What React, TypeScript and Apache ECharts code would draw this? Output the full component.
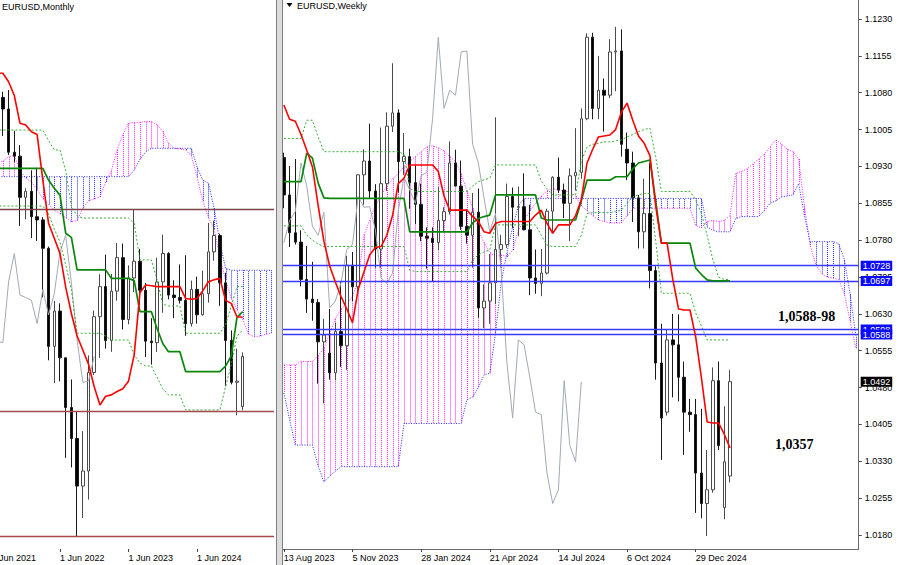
import React, { useEffect, useRef } from 'react';
import * as echarts from 'echarts';

// ================= MONTHLY (left panel) =================
const M_FIRST_YEAR = 2021; // categories start Jun 2021
const M_TICK_LABELS = ['1 Jun 2021', '1 Jun 2022', '1 Jun 2023', '1 Jun 2024'];
const M_OPEN = [null, null, 1.1870, 1.1808, 1.1578, 1.1557, 1.1338, 1.1370, 1.1235, 1.1218, 1.1067, 1.0545, 1.0733, 1.0484, 1.0220, 1.0055, 0.9802, 0.9882, 1.0406, 1.0703, 1.0863, 1.0576, 1.0839, 1.1017, 1.0688, 1.0909, 1.0998, 1.0844, 1.0573, 1.0565, 1.0888, 1.1039, 1.0818, 1.0805, 1.0790, 1.0666, 1.0848, 1.0713, 1.0825, 1.1048, 1.1135, 1.0883, 1.0577, 1.0354, 1.0225];
const M_HIGH = [null, null, 1.1900, 1.1909, 1.1692, 1.1616, 1.1386, 1.1482, 1.1495, 1.1233, 1.1076, 1.0787, 1.0774, 1.0486, 1.0369, 1.0198, 1.0094, 1.0497, 1.0736, 1.0929, 1.1033, 1.0930, 1.1095, 1.1092, 1.0976, 1.1276, 1.1064, 1.0882, 1.0695, 1.1017, 1.1140, 1.1046, 1.0897, 1.0981, 1.1030, 1.0895, 1.0916, 1.0948, 1.1202, 1.1214, 1.1145, 1.0937, 1.0630, 1.0533, 1.0513];
const M_LOW = [null, null, 1.1664, 1.1563, 1.1524, 1.1186, 1.1221, 1.1121, 1.1106, 1.0806, 1.0471, 1.0349, 1.0359, 0.9952, 0.9901, 0.9536, 0.9632, 0.9730, 1.0393, 1.0483, 1.0533, 1.0516, 1.0788, 1.0635, 1.0662, 1.0834, 1.0766, 1.0488, 1.0448, 1.0516, 1.0724, 1.0795, 1.0695, 1.0773, 1.0601, 1.0650, 1.0666, 1.0709, 1.0778, 1.1001, 1.0761, 1.0333, 1.0343, 1.0178, 1.0205];
const M_CLOSE = [null, null, 1.1808, 1.1578, 1.1557, 1.1338, 1.1370, 1.1235, 1.1218, 1.1067, 1.0545, 1.0733, 1.0484, 1.0220, 1.0055, 0.9802, 0.9882, 1.0406, 1.0703, 1.0863, 1.0576, 1.0839, 1.1017, 1.0688, 1.0909, 1.0998, 1.0844, 1.0573, 1.0565, 1.0888, 1.1039, 1.0818, 1.0805, 1.0790, 1.0666, 1.0848, 1.0713, 1.0825, 1.1048, 1.1135, 1.0883, 1.0577, 1.0354, 1.0360, 1.0492];
const M_TENKAN = [1.2010, 1.2000, 1.1998, 1.1953, 1.1880, 1.1732, 1.1723, 1.1687, 1.1672, 1.1430, 1.1200, 1.1120, 1.1040, 1.0860, 1.0720, 1.0600, 1.0526, 1.0450, 1.0330, 1.0233, 1.0280, 1.0287, 1.0305, 1.0320, 1.0360, 1.0500, 1.0830, 1.0872, 1.0868, 1.0863, 1.0863, 1.0863, 1.0863, 1.0863, 1.0800, 1.0796, 1.0800, 1.0840, 1.0889, 1.0900, 1.0907, 1.0790, 1.0774, 1.0703, 1.0700];
const M_KIJUN = [1.1492, 1.1492, 1.1492, 1.1492, 1.1492, 1.1492, 1.1492, 1.1492, 1.1492, 1.1492, 1.1430, 1.1386, 1.1350, 1.1147, 1.1125, 1.0952, 1.0952, 1.0952, 1.0952, 1.0952, 1.0952, 1.0907, 1.0907, 1.0907, 1.0907, 1.0895, 1.0730, 1.0730, 1.0730, 1.0640, 1.0560, 1.0517, 1.0517, 1.0517, 1.0411, 1.0411, 1.0411, 1.0411, 1.0411, 1.0411, 1.0411, 1.0440, 1.0495, 1.0700, 1.0730];
const M_UPPER_DOT = [1.1696, 1.1696, 1.1696, 1.1696, 1.1696, 1.1696, 1.1696, 1.1696, 1.1696, 1.1696, 1.1640, 1.1590, 1.1590, 1.1480, 1.1290, 1.1240, 1.1228, 1.1228, 1.1228, 1.1228, 1.1228, 1.1228, 1.1228, 1.1228, 1.1228, 1.1200, 1.1005, 1.1005, 1.1005, 1.0900, 1.0770, 1.0760, 1.0760, 1.0760, 1.0615, 1.0615, 1.0615, 1.0615, 1.0615, 1.0615, 1.0615, 1.0660, 1.0760, 1.0863, 1.0863];
const M_LOWER_DOT = [1.1292, 1.1292, 1.1292, 1.1292, 1.1292, 1.1292, 1.1292, 1.1292, 1.1292, 1.1292, 1.1250, 1.1170, 1.1100, 1.0980, 1.0845, 1.0615, 1.0615, 1.0615, 1.0615, 1.0615, 1.0600, 1.0579, 1.0579, 1.0579, 1.0579, 1.0500, 1.0457, 1.0441, 1.0441, 1.0380, 1.0320, 1.0287, 1.0287, 1.0287, 1.0207, 1.0207, 1.0207, 1.0207, 1.0207, 1.0207, 1.0207, 1.0330, 1.0450, 1.0600, 1.0632];
const M_SPAN_A = [1.1520, 1.1525, 1.1530, 1.1554, 1.1560, 1.1480, 1.1440, 1.1420, 1.1380, 1.1330, 1.1300, 1.1270, 1.1250, 1.1230, 1.1208, 1.1215, 1.1280, 1.1320, 1.1330, 1.1340, 1.1420, 1.1480, 1.1590, 1.1670, 1.1732, 1.1735, 1.1738, 1.1741, 1.1741, 1.1725, 1.1690, 1.1625, 1.1600, 1.1595, 1.1590, 1.1560, 1.1448, 1.1320, 1.1230, 1.1170, 1.1020, 1.0900, 1.0800, 1.0740, 1.0690, 1.0610, 1.0597, 1.0600, 1.0610, 1.0615];
const M_SPAN_B = [1.1448, 1.1448, 1.1448, 1.1448, 1.1448, 1.1448, 1.1448, 1.1448, 1.1448, 1.1448, 1.1448, 1.1448, 1.1448, 1.1448, 1.1448, 1.1448, 1.1448, 1.1448, 1.1448, 1.1448, 1.1448, 1.1448, 1.1448, 1.1448, 1.1448, 1.1483, 1.1540, 1.1580, 1.1599, 1.1599, 1.1599, 1.1599, 1.1599, 1.1599, 1.1599, 1.1599, 1.1501, 1.1430, 1.1413, 1.1280, 1.1100, 1.0960, 1.0950, 1.0950, 1.0950, 1.0950, 1.0950, 1.0950, 1.0950, 1.0950];
const M_LEVELS = [1.1276, 1.0202, 0.9537];

// ================= WEEKLY (right panel) =================
const W_TICK_LABELS = ['13 Aug 2023', '5 Nov 2023', '28 Jan 2024', '21 Apr 2024', '14 Jul 2024', '6 Oct 2024', '29 Dec 2024'];
const W_PRICE_TICKS = [1.0180, 1.0255, 1.0330, 1.0405, 1.0480, 1.0555, 1.0630, 1.0705, 1.0780, 1.0855, 1.0930, 1.1005, 1.1080, 1.1155, 1.1230];
const W_OPEN = [1.0948, 1.0872, 1.0795, 1.0776, 1.0700, 1.0660, 1.0653, 1.0573, 1.0550, 1.0510, 1.0594, 1.0565, 1.0729, 1.0685, 1.0913, 1.0941, 1.0880, 1.0762, 1.0895, 1.1012, 1.1039, 1.0940, 1.0950, 1.0897, 1.0853, 1.0788, 1.0784, 1.0775, 1.0820, 1.0838, 1.0937, 1.0890, 1.0808, 1.0790, 1.0837, 1.0642, 1.0656, 1.0693, 1.0761, 1.0771, 1.0869, 1.0847, 1.0848, 1.0801, 1.0703, 1.0692, 1.0713, 1.0839, 1.0908, 1.0882, 1.0855, 1.0911, 1.0918, 1.1027, 1.1193, 1.1048, 1.1085, 1.1075, 1.1163, 1.1165, 1.0965, 1.0937, 1.0866, 1.0797, 1.0834, 1.0718, 1.0530, 1.0430, 1.0577, 1.0567, 1.0501, 1.0430, 1.0425, 1.0306, 1.0244, 1.0272, 1.0494, 1.0236, 1.0300];
const W_HIGH = [1.0958, 1.0931, 1.0945, 1.0800, 1.0768, 1.0736, 1.0660, 1.0620, 1.0640, 1.0612, 1.0695, 1.0748, 1.0756, 1.0914, 1.0965, 1.1017, 1.0894, 1.1009, 1.1040, 1.1140, 1.1046, 1.0998, 1.0966, 1.0932, 1.0895, 1.0806, 1.0806, 1.0888, 1.0847, 1.0981, 1.0964, 1.0942, 1.0843, 1.0876, 1.0885, 1.0690, 1.0752, 1.1030, 1.0791, 1.0895, 1.0887, 1.0889, 1.0916, 1.0852, 1.0761, 1.0762, 1.0844, 1.0910, 1.0948, 1.0895, 1.0926, 1.1008, 1.1048, 1.1201, 1.1202, 1.1155, 1.1109, 1.1189, 1.1214, 1.1209, 1.0999, 1.0960, 1.0872, 1.0905, 1.0937, 1.0727, 1.0610, 1.0597, 1.0630, 1.0629, 1.0533, 1.0457, 1.0457, 1.0437, 1.0353, 1.0521, 1.0533, 1.0442, 1.0516];
const W_LOW = [1.0845, 1.0766, 1.0771, 1.0686, 1.0632, 1.0616, 1.0488, 1.0448, 1.0496, 1.0495, 1.0522, 1.0516, 1.0656, 1.0667, 1.0852, 1.0866, 1.0724, 1.0723, 1.0880, 1.1000, 1.0877, 1.0913, 1.0844, 1.0813, 1.0778, 1.0722, 1.0695, 1.0760, 1.0796, 1.0832, 1.0905, 1.0801, 1.0773, 1.0724, 1.0622, 1.0601, 1.0610, 1.0650, 1.0724, 1.0764, 1.0805, 1.0788, 1.0800, 1.0668, 1.0671, 1.0666, 1.0710, 1.0797, 1.0876, 1.0825, 1.0778, 1.0881, 1.0905, 1.1024, 1.1026, 1.1026, 1.1001, 1.1069, 1.1083, 1.0950, 1.0902, 1.0817, 1.0763, 1.0763, 1.0682, 1.0496, 1.0333, 1.0423, 1.0460, 1.0452, 1.0343, 1.0390, 1.0225, 1.0214, 1.0178, 1.0266, 1.0353, 1.0212, 1.0287];
const W_CLOSE = [1.0872, 1.0795, 1.0776, 1.0700, 1.0660, 1.0653, 1.0573, 1.0587, 1.0510, 1.0594, 1.0565, 1.0729, 1.0685, 1.0913, 1.0941, 1.0880, 1.0762, 1.0895, 1.1012, 1.1039, 1.0940, 1.0950, 1.0897, 1.0853, 1.0788, 1.0784, 1.0775, 1.0820, 1.0838, 1.0937, 1.0890, 1.0808, 1.0790, 1.0837, 1.0642, 1.0656, 1.0693, 1.0761, 1.0771, 1.0869, 1.0847, 1.0848, 1.0801, 1.0703, 1.0692, 1.0713, 1.0839, 1.0908, 1.0882, 1.0855, 1.0911, 1.0918, 1.1027, 1.1193, 1.1048, 1.1085, 1.1075, 1.1163, 1.1165, 1.0975, 1.0937, 1.0866, 1.0797, 1.0834, 1.0718, 1.0530, 1.0418, 1.0577, 1.0567, 1.0501, 1.0430, 1.0425, 1.0306, 1.0244, 1.0272, 1.0494, 1.0362, 1.0329, 1.0492];
const W_TENKAN = [1.1055, 1.1026, 1.1022, 1.0995, 1.0963, 1.0929, 1.0850, 1.0778, 1.0728, 1.0695, 1.0665, 1.0640, 1.0612, 1.0680, 1.0715, 1.0750, 1.0765, 1.0767, 1.0790, 1.0830, 1.0895, 1.0906, 1.0933, 1.0933, 1.0933, 1.0933, 1.0933, 1.0920, 1.0870, 1.0841, 1.0841, 1.0841, 1.0841, 1.0828, 1.0818, 1.0797, 1.0794, 1.0814, 1.0818, 1.0818, 1.0818, 1.0818, 1.0818, 1.0818, 1.0831, 1.0841, 1.0814, 1.0794, 1.0811, 1.0811, 1.0811, 1.0830, 1.0862, 1.0937, 1.0965, 1.0990, 1.0992, 1.0994, 1.1005, 1.1040, 1.1059, 1.1024, 1.0992, 1.0977, 1.0952, 1.0850, 1.0774, 1.0774, 1.0700, 1.0640, 1.0638, 1.0638, 1.0583, 1.0500, 1.0410, 1.0408, 1.0408, 1.0385, 1.0357];
const W_KIJUN = [1.0899, 1.0899, 1.0899, 1.0899, 1.0957, 1.0947, 1.0896, 1.0866, 1.0865, 1.0865, 1.0865, 1.0865, 1.0865, 1.0865, 1.0865, 1.0865, 1.0865, 1.0865, 1.0865, 1.0865, 1.0865, 1.0865, 1.0797, 1.0797, 1.0797, 1.0797, 1.0797, 1.0797, 1.0797, 1.0797, 1.0797, 1.0797, 1.0797, 1.0815, 1.0824, 1.0828, 1.0831, 1.0872, 1.0872, 1.0872, 1.0872, 1.0872, 1.0872, 1.0872, 1.0872, 1.0825, 1.0821, 1.0821, 1.0821, 1.0821, 1.0821, 1.0821, 1.0860, 1.0902, 1.0902, 1.0902, 1.0902, 1.0902, 1.0909, 1.0909, 1.0909, 1.0925, 1.0937, 1.0940, 1.0943, 1.0860, 1.0774, 1.0774, 1.0774, 1.0774, 1.0774, 1.0774, 1.0723, 1.0710, 1.0699, 1.0697, 1.0697, 1.0697, 1.0697];
const W_UPPER_DOT = [1.0987, 1.0987, 1.0987, 1.0987, 1.1024, 1.1024, 1.0990, 1.0960, 1.0960, 1.0960, 1.0960, 1.0960, 1.0960, 1.0960, 1.0960, 1.0960, 1.0960, 1.0960, 1.0960, 1.0960, 1.0960, 1.0955, 1.0885, 1.0879, 1.0879, 1.0879, 1.0879, 1.0879, 1.0879, 1.0879, 1.0879, 1.0879, 1.0879, 1.0890, 1.0899, 1.0903, 1.0906, 1.0933, 1.0933, 1.0933, 1.0933, 1.0933, 1.0933, 1.0933, 1.0933, 1.0900, 1.0885, 1.0872, 1.0872, 1.0872, 1.0872, 1.0872, 1.0940, 1.0970, 1.0975, 1.0977, 1.0980, 1.0980, 1.0982, 1.0984, 1.0990, 1.0995, 1.1001, 1.1005, 1.1008, 1.0950, 1.0879, 1.0879, 1.0879, 1.0879, 1.0879, 1.0879, 1.0862, 1.0834, 1.0790, 1.0740, 1.0705, 1.0700, 1.0700];
const W_LOWER_DOT = [1.0809, 1.0809, 1.0809, 1.0809, 1.0790, 1.0780, 1.0772, 1.0767, 1.0767, 1.0767, 1.0767, 1.0767, 1.0767, 1.0767, 1.0767, 1.0767, 1.0767, 1.0767, 1.0767, 1.0767, 1.0767, 1.0767, 1.0719, 1.0716, 1.0716, 1.0716, 1.0716, 1.0716, 1.0716, 1.0716, 1.0716, 1.0716, 1.0716, 1.0740, 1.0750, 1.0756, 1.0760, 1.0811, 1.0811, 1.0811, 1.0811, 1.0811, 1.0811, 1.0811, 1.0811, 1.0790, 1.0770, 1.0767, 1.0767, 1.0767, 1.0767, 1.0767, 1.0790, 1.0834, 1.0836, 1.0836, 1.0836, 1.0836, 1.0838, 1.0841, 1.0855, 1.0868, 1.0872, 1.0875, 1.0875, 1.0780, 1.0672, 1.0672, 1.0672, 1.0672, 1.0672, 1.0672, 1.0632, 1.0605, 1.0577, 1.0577, 1.0577, 1.0577, 1.0577];
const W_SPAN_A = [1.0526, 1.0526, 1.0526, 1.0533, 1.0533, 1.0533, 1.0545, 1.0560, 1.0590, 1.0620, 1.0640, 1.0650, 1.0665, 1.0700, 1.0790, 1.0820, 1.0850, 1.0870, 1.0890, 1.0905, 1.0915, 1.0930, 1.0940, 1.0950, 1.0960, 1.0970, 1.0972, 1.0968, 1.0962, 1.0950, 1.0940, 1.0915, 1.0880, 1.0845, 1.0800, 1.0775, 1.0755, 1.0746, 1.0750, 1.0746, 1.0760, 1.0800, 1.0820, 1.0840, 1.0855, 1.0870, 1.0880, 1.0885, 1.0882, 1.0880, 1.0878, 1.0870, 1.0850, 1.0840, 1.0830, 1.0821, 1.0818, 1.0815, 1.0815, 1.0815, 1.0830, 1.0845, 1.0845, 1.0845, 1.0845, 1.0845, 1.0845, 1.0845, 1.0845, 1.0845, 1.0845, 1.0845, 1.0810, 1.0805, 1.0818, 1.0820, 1.0818, 1.0820, 1.0830, 1.0916, 1.0920, 1.0925, 1.0935, 1.0945, 1.0955, 1.0970, 1.0984, 1.0975, 1.0965, 1.0960, 1.0945, 1.0850, 1.0770, 1.0730, 1.0712, 1.0705, 1.0703, 1.0700, 1.0670, 1.0615, 1.0560];
const W_SPAN_B = [1.0469, 1.0415, 1.0363, 1.0363, 1.0363, 1.0363, 1.0320, 1.0288, 1.0300, 1.0310, 1.0319, 1.0319, 1.0319, 1.0319, 1.0319, 1.0319, 1.0319, 1.0319, 1.0319, 1.0319, 1.0319, 1.0407, 1.0407, 1.0407, 1.0407, 1.0407, 1.0407, 1.0407, 1.0407, 1.0407, 1.0407, 1.0407, 1.0455, 1.0461, 1.0480, 1.0506, 1.0509, 1.0590, 1.0695, 1.0755, 1.0807, 1.0850, 1.0865, 1.0865, 1.0865, 1.0865, 1.0865, 1.0865, 1.0865, 1.0865, 1.0865, 1.0865, 1.0865, 1.0865, 1.0865, 1.0865, 1.0865, 1.0865, 1.0865, 1.0865, 1.0865, 1.0865, 1.0865, 1.0865, 1.0865, 1.0865, 1.0865, 1.0865, 1.0865, 1.0865, 1.0865, 1.0865, 1.0865, 1.0865, 1.0807, 1.0800, 1.0797, 1.0797, 1.0797, 1.0824, 1.0828, 1.0828, 1.0828, 1.0828, 1.0840, 1.0855, 1.0860, 1.0868, 1.0870, 1.0872, 1.0895, 1.0830, 1.0777, 1.0777, 1.0777, 1.0777, 1.0777, 1.0773, 1.0740, 1.0670, 1.0585];
const W_LEVELS = [1.0728, 1.0697, 1.0598, 1.0588];
const CHIKOU_SHIFT = 26;

// ================= styling =================
const OFF = 12; // the chart canvas starts 12px left of the page so the first monthly label is cut like the reference
const FONT = '"Liberation Sans", Arial, sans-serif';
const SERIF = '"Liberation Serif", "Times New Roman", serif';
const PINK = '#ff1eff';
const CLOUD_BLUE = '#2626ff';
const RED = '#ff0000';
const KIJUN_GREEN = '#0a870a';
const DOT_GREEN = '#34b034';
const CHIKOU_GRAY = '#a2aab6';
const LEVEL_BLUE = '#3838ff';
const BROWN = '#a44a4a';

const M_YMIN = 0.9467, M_YMAX = 1.2388;
const W_YMIN = 1.01515, W_YMAX = 1.12687;

function monthCategories(n: number) {
  const names = ['Jan', 'Feb', 'Mar', 'Apr', 'May', 'Jun', 'Jul', 'Aug', 'Sep', 'Oct', 'Nov', 'Dec'];
  const out: string[] = [];
  for (let i = 0; i < n; i++) {
    const m = 5 + i;
    out.push(names[m % 12] + ' ' + (M_FIRST_YEAR + Math.floor(m / 12)));
  }
  return out;
}

function hatchRender(params: any, api: any) {
  const a = api.value(1);
  const b = api.value(2);
  if (a == null || b == null || isNaN(a) || isNaN(b)) return null;
  const p1 = api.coord([api.value(0), a]);
  const p2 = api.coord([api.value(0), b]);
  const x = Math.round(p1[0]) + 0.5;
  return {
    type: 'line',
    shape: { x1: x, y1: p1[1], x2: x, y2: p2[1] },
    style: { stroke: a >= b ? PINK : CLOUD_BLUE, lineWidth: 1, lineDash: [1, 1] },
    silent: true,
  };
}

function panelSeries(idx: number, d: any) {
  const candles = d.open.map((o: any, i: number) =>
    o == null ? '-' : [o, d.close[i], d.low[i], d.high[i]]
  );
  const chikou = d.close.map((_: any, i: number) => {
    const v = d.close[i + CHIKOU_SHIFT];
    return v == null ? '-' : v;
  });
  const line = (name: string, data: any[], color: string, width: number, type: any, z: number) => ({
    name, type: 'line', xAxisIndex: idx, yAxisIndex: idx, data, symbol: 'none',
    lineStyle: { color, width, type }, z, silent: true, connectNulls: false,
  });
  return [
    {
      type: 'custom', xAxisIndex: idx, yAxisIndex: idx, renderItem: hatchRender,
      data: d.spanA.map((a: number, i: number) => [i, a, d.spanB[i]]),
      encode: { x: 0, y: [1, 2] }, clip: true, silent: true, z: 1,
    },
    line('spanA', d.spanA, PINK, 1, [1, 1.5], 2),
    line('spanB', d.spanB, CLOUD_BLUE, 1, [1, 1.5], 2),
    {
      type: 'candlestick', xAxisIndex: idx, yAxisIndex: idx, data: candles, barWidth: 3, z: 3, silent: true,
      itemStyle: { color: '#ffffff', color0: '#000000', borderColor: '#4a4a4a', borderColor0: '#1a1a1a', borderWidth: 1, borderColorDoji: '#333333' },
      markLine: d.markLine,
    },
    line('chikou', chikou, CHIKOU_GRAY, 1, 'solid', 4),
    line('upperDot', d.upperDot, DOT_GREEN, 1, [2, 2], 4),
    line('lowerDot', d.lowerDot, DOT_GREEN, 1, [2, 2], 4),
    line('kijun', d.kijun, KIJUN_GREEN, 1.7, 'solid', 5),
    line('tenkan', d.tenkan, RED, 1.6, 'solid', 6),
  ];
}

function buildOption() {
  const monthCats = monthCategories(M_SPAN_A.length);
  const weekCats = W_SPAN_A.map((_, i) => String(i));
  const mInterval = (i: number) => i % 12 === 0 && i / 12 < M_TICK_LABELS.length;
  const wInterval = (i: number) => i % 12 === 0 && i / 12 < W_TICK_LABELS.length;
  const axisText = { fontSize: 9, color: '#000', fontFamily: FONT };

  const lastClose = W_CLOSE[W_CLOSE.length - 1];
  const tag = (v: number, bg: string, line: any) => ({
    yAxis: v,
    lineStyle: line,
    label: {
      show: true, position: 'end', distance: 2, formatter: v.toFixed(4),
      color: '#ffffff', backgroundColor: bg, padding: [1, 2, 0, 2],
      fontSize: 9, lineHeight: 9, fontFamily: FONT,
    },
  });

  const monthly = {
    open: M_OPEN, high: M_HIGH, low: M_LOW, close: M_CLOSE,
    tenkan: M_TENKAN, kijun: M_KIJUN, upperDot: M_UPPER_DOT, lowerDot: M_LOWER_DOT,
    spanA: M_SPAN_A, spanB: M_SPAN_B,
    markLine: {
      symbol: ['none', 'none'], silent: true, precision: 4, label: { show: false },
      lineStyle: { color: BROWN, width: 1.3, type: 'solid' },
      data: M_LEVELS.map((v, i) => ({ yAxis: v, lineStyle: { color: i === 0 ? '#7a4444' : BROWN, width: 1.3, type: 'solid' } })),
    },
  };
  const weekly = {
    open: W_OPEN, high: W_HIGH, low: W_LOW, close: W_CLOSE,
    tenkan: W_TENKAN, kijun: W_KIJUN, upperDot: W_UPPER_DOT, lowerDot: W_LOWER_DOT,
    spanA: W_SPAN_A, spanB: W_SPAN_B,
    markLine: {
      symbol: ['none', 'none'], silent: true, precision: 4,
      lineStyle: { color: LEVEL_BLUE, width: 1.4, type: 'solid', opacity: 1 },
      data: [
        ...W_LEVELS.map((v) => tag(v, '#0a0aff', { color: LEVEL_BLUE, width: 1.4, type: 'solid', opacity: 1 })),
        tag(lastClose, '#000000', { color: 'rgba(0,0,0,0)', width: 0 }),
      ],
    },
  };

  return {
    animation: false,
    backgroundColor: '#ffffff',
    grid: [
      { left: OFF - 11.4, top: 0, width: 285.5, height: 549 },
      { left: OFF + 281, top: 0, width: 577.7, height: 549 },
    ],
    xAxis: [
      {
        type: 'category', gridIndex: 0, data: monthCats, boundaryGap: true,
        axisLine: { show: false },
        axisTick: { show: true, alignWithLabel: true, interval: mInterval, length: 3, lineStyle: { color: '#444' } },
        axisLabel: { ...axisText, interval: mInterval, align: 'left', margin: 4, formatter: (_v: any, i: number) => M_TICK_LABELS[i / 12] ?? '' },
        splitLine: { show: false },
      },
      {
        type: 'category', gridIndex: 1, data: weekCats, boundaryGap: true,
        axisLine: { show: true, lineStyle: { color: '#6a6a6a' } },
        axisTick: { show: true, alignWithLabel: true, interval: wInterval, length: 3, lineStyle: { color: '#444' } },
        axisLabel: { ...axisText, interval: wInterval, align: 'left', margin: 4, formatter: (_v: any, i: number) => W_TICK_LABELS[i / 12] ?? '' },
        splitLine: { show: false },
      },
    ],
    yAxis: [
      { type: 'value', gridIndex: 0, min: M_YMIN, max: M_YMAX, show: false, splitLine: { show: false } },
      {
        type: 'value', gridIndex: 1, position: 'right', min: W_YMIN, max: W_YMAX,
        axisLine: { show: true, lineStyle: { color: '#6a6a6a' } },
        axisTick: { show: true, length: 3, customValues: W_PRICE_TICKS, lineStyle: { color: '#444' } },
        axisLabel: { ...axisText, customValues: W_PRICE_TICKS, margin: 6, formatter: (v: number) => v.toFixed(4) },
        splitLine: { show: false },
      },
    ],
    series: [...panelSeries(0, monthly), ...panelSeries(1, weekly)],
    graphic: [
      { type: 'rect', z: 100, shape: { x: OFF + 276, y: 0, width: 7, height: 565 }, style: { fill: '#dcdcdc' } },
      { type: 'line', z: 101, shape: { x1: OFF + 276.5, y1: 0, x2: OFF + 276.5, y2: 565 }, style: { stroke: '#808080', lineWidth: 1 } },
      { type: 'line', z: 101, shape: { x1: OFF + 282.5, y1: 0, x2: OFF + 282.5, y2: 565 }, style: { stroke: '#808080', lineWidth: 1 } },
      { type: 'text', z: 101, x: OFF + 2, y: 6.5, style: { text: 'EURUSD,Monthly', fill: '#000', fontSize: 9, fontFamily: FONT, verticalAlign: 'middle' } },
      { type: 'polygon', z: 101, shape: { points: [[OFF + 286.5, 3], [OFF + 292.5, 3], [OFF + 289.5, 7]] }, style: { fill: '#000' } },
      { type: 'text', z: 101, x: OFF + 297, y: 5.5, style: { text: 'EURUSD,Weekly', fill: '#000', fontSize: 9, fontFamily: FONT, verticalAlign: 'middle' } },
      { type: 'text', z: 101, x: OFF + 778, y: 316, style: { text: '1,0588-98', fill: '#000', fontSize: 14, fontWeight: 'bold', fontFamily: SERIF, verticalAlign: 'middle' } },
      { type: 'text', z: 101, x: OFF + 775, y: 444, style: { text: '1,0357', fill: '#000', fontSize: 14, fontWeight: 'bold', fontFamily: SERIF, verticalAlign: 'middle' } },
    ],
  };
}

export default function App() {
  const ref = useRef<HTMLDivElement>(null);
  useEffect(() => {
    if (!ref.current) return;
    const chart = echarts.init(ref.current, null, { renderer: 'svg', width: 900 + OFF, height: 565 });
    chart.setOption(buildOption() as any);
    return () => chart.dispose();
  }, []);
  return (
    <div
      ref={ref}
      style={{ position: 'fixed', left: -OFF, top: 0, width: 900 + OFF, height: 565, background: '#ffffff' }}
    />
  );
}
